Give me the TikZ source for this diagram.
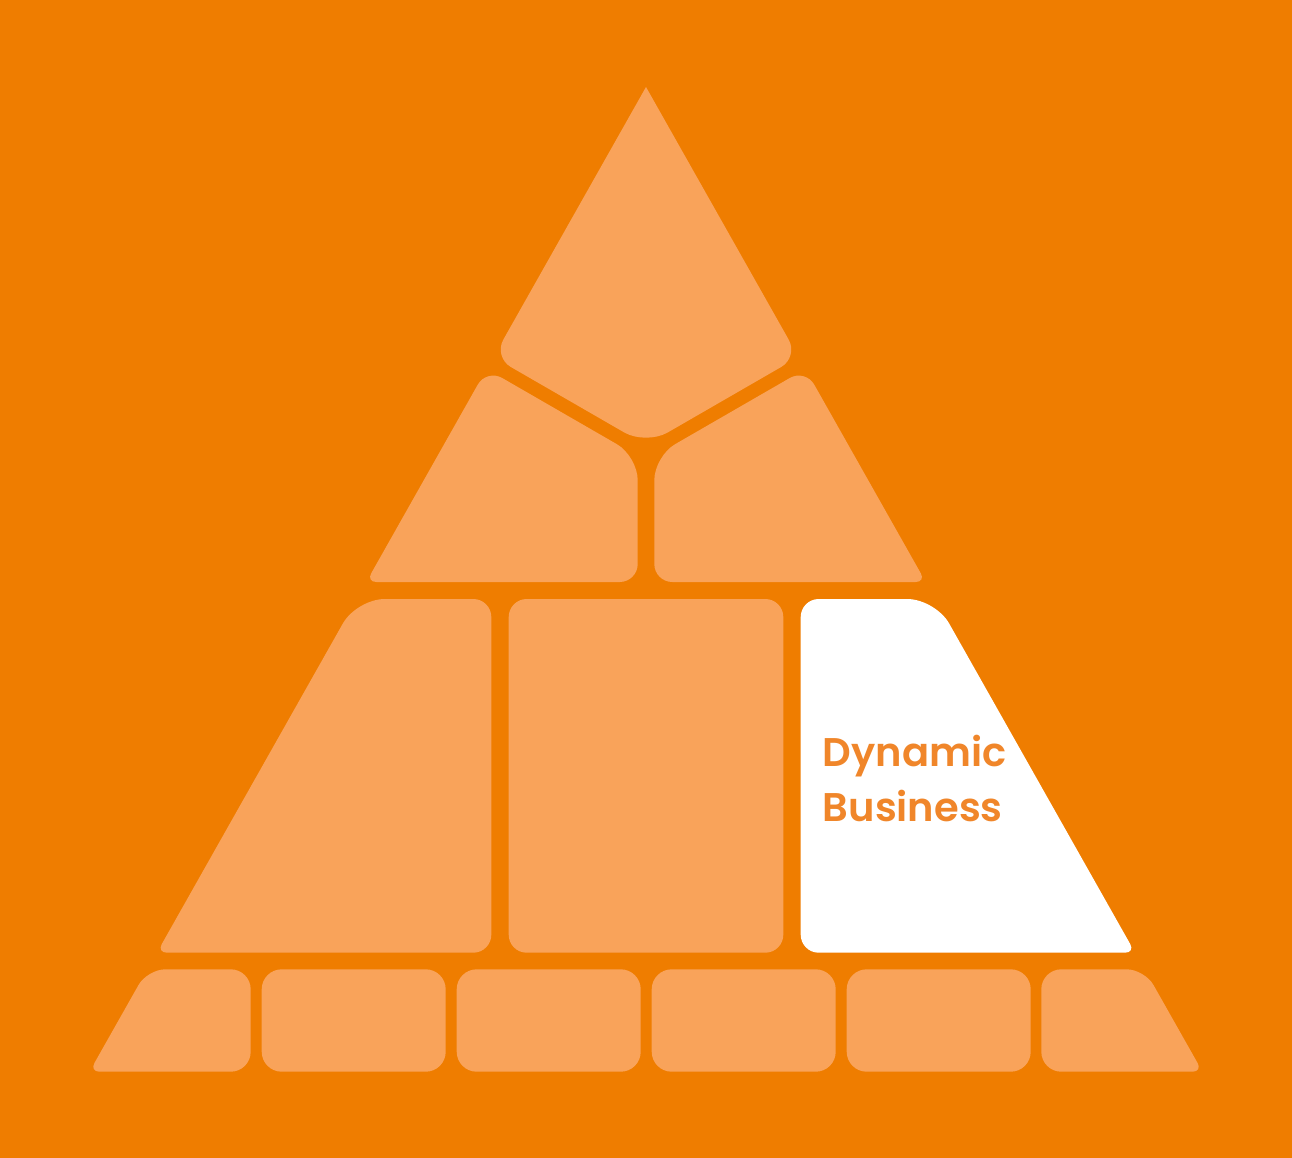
\documentclass[tikz,border=0pt]{standalone}
\usepackage{fontspec}
\setmainfont{Poppins}
\newfontfamily\labelfont{Poppins SemiBold}
\usetikzlibrary{calc}
\definecolor{bgorange}{RGB}{239,125,0}
\definecolor{lightpiece}{RGB}{249,163,90}
\definecolor{textorange}{RGB}{240,134,42}
\newcommand\crn[4]{-- ($(#2)!#4pt!(#1)$) .. controls ($(#2)!{0.448*#4pt}!(#1)$) and ($(#2)!{0.448*#4pt}!(#3)$) .. ($(#2)!#4pt!(#3)$)}
\tikzset{
  piece/.style={fill=lightpiece},
  hilite/.style={fill=white},
  tile/.style={fill=lightpiece, rounded corners=20pt},
  blocklabel/.style={anchor=base west, align=left, inner sep=0pt, text=textorange,
    font=\fontsize{40}{54.3}\selectfont\labelfont}
}
\begin{document}
\begin{tikzpicture}[x=1pt,y=-1pt]
\fill[bgorange] (0,0) rectangle (1292,1158);
\useasboundingbox (0,0) rectangle (1292,1158);
% top kite
\coordinate (K1) at (646,87);
\coordinate (K2) at (493.5,357);
\coordinate (K3) at (646,445);
\coordinate (K4) at (798.5,357);
\fill[piece] (K1) \crn{K1}{K2}{K3}{20} \crn{K2}{K3}{K4}{25} \crn{K3}{K4}{K1}{20} -- cycle;
% row 2 left
\coordinate (A1) at (486.6,369);
\coordinate (A2) at (637.7,456.2);
\coordinate (A3) at (637.7,582);
\coordinate (A4) at (366.3,582);
\fill[piece] ($(A4)!0.5!(A1)$) \crn{A4}{A1}{A2}{18} \crn{A1}{A2}{A3}{24} \crn{A2}{A3}{A4}{18} \crn{A3}{A4}{A1}{10} -- cycle;
% row 2 right
\coordinate (B1) at (805.4,369);
\coordinate (B2) at (654.3,456.2);
\coordinate (B3) at (654.3,582);
\coordinate (B4) at (925.7,582);
\fill[piece] ($(B4)!0.5!(B1)$) \crn{B4}{B1}{B2}{18} \crn{B1}{B2}{B3}{24} \crn{B2}{B3}{B4}{18} \crn{B3}{B4}{B1}{10} -- cycle;
% row 3 left
\coordinate (C1) at (356.7,599);
\coordinate (C2) at (491.3,599);
\coordinate (C3) at (491.3,952.7);
\coordinate (C4) at (156.9,952.7);
\fill[piece] ($(C4)!0.5!(C1)$) \crn{C4}{C1}{C2}{28} \crn{C1}{C2}{C3}{18} \crn{C2}{C3}{C4}{18} \crn{C3}{C4}{C1}{10} -- cycle;
% row 3 middle
\fill[tile, rounded corners=18pt] (508.7,599) rectangle (783.3,952.7);
% row 3 right (highlighted)
\coordinate (D1) at (800.7,599);
\coordinate (D2) at (935.3,599);
\coordinate (D3) at (1135.1,952.7);
\coordinate (D4) at (800.7,952.7);
\fill[hilite] ($(D4)!0.5!(D1)$) \crn{D4}{D1}{D2}{18} \crn{D1}{D2}{D3}{28} \crn{D2}{D3}{D4}{10} \crn{D3}{D4}{D1}{18} -- cycle;
\node[blocklabel] (lbl) at (822.7,821) {Dynamic\\Business};
% row 4
\coordinate (E1) at (147.4,969.3);
\coordinate (E2) at (250.7,969.3);
\coordinate (E3) at (250.7,1071.7);
\coordinate (E4) at (89.5,1071.7);
\fill[piece] ($(E4)!0.5!(E1)$) \crn{E4}{E1}{E2}{18} \crn{E1}{E2}{E3}{20} \crn{E2}{E3}{E4}{20} \crn{E3}{E4}{E1}{10} -- cycle;
\fill[tile] (261.7,969.3) rectangle (445.7,1071.7);
\fill[tile] (456.7,969.3) rectangle (640.7,1071.7);
\fill[tile] (651.7,969.3) rectangle (835.7,1071.7);
\fill[tile] (846.7,969.3) rectangle (1030.7,1071.7);
\coordinate (F1) at (1041.3,969.3);
\coordinate (F2) at (1144.6,969.3);
\coordinate (F3) at (1202.5,1071.7);
\coordinate (F4) at (1041.3,1071.7);
\fill[piece] ($(F4)!0.5!(F1)$) \crn{F4}{F1}{F2}{20} \crn{F1}{F2}{F3}{18} \crn{F2}{F3}{F4}{10} \crn{F3}{F4}{F1}{20} -- cycle;
\end{tikzpicture}
\end{document}
